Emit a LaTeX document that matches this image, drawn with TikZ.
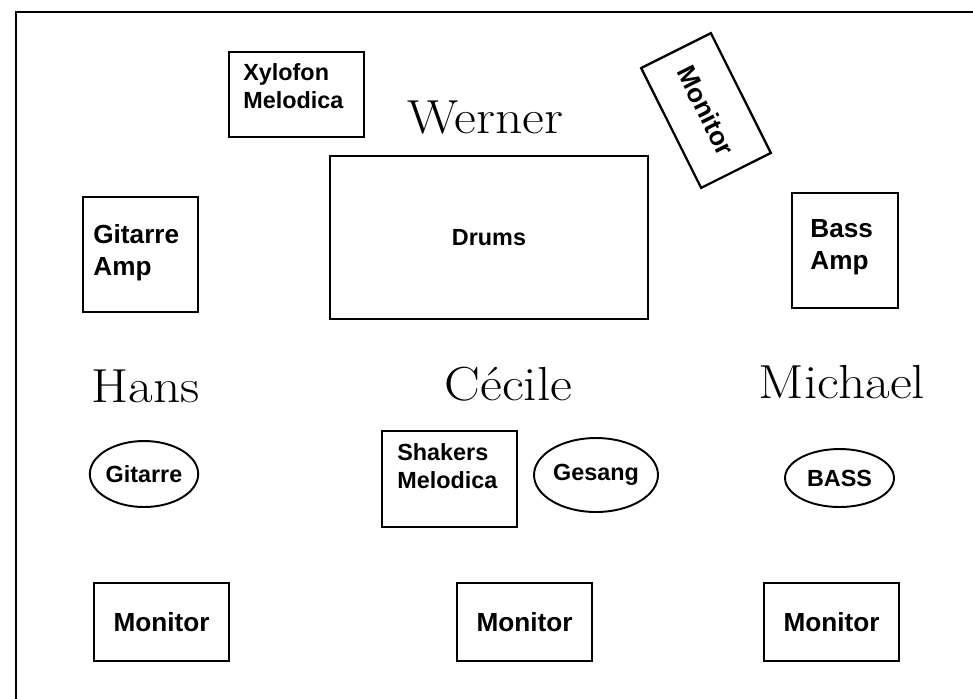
\documentclass[tikz,border=0pt]{standalone}
\usepackage{fontspec}
\setsansfont{Liberation Sans}
\usetikzlibrary{shapes.geometric}

\begin{document}
\begin{tikzpicture}[x=0.02cm, y=-0.02cm]
	 \tikzset{
	 	box/.style={draw, line width=1.3pt, rectangle, inner sep=0pt},
	 	oval/.style={draw, line width=1.1pt, ellipse, inner sep=0pt},
	 	smalltext/.style={font=\sffamily\bfseries\fontsize{13.3}{15.9}\selectfont, align=left, inner sep=0pt},
	 	bigtext/.style={font=\sffamily\bfseries\fontsize{14.9}{18.1}\selectfont, align=left, inner sep=0pt},
	 	person/.style={font=\fontsize{27.2}{30}\selectfont, xscale=1.12, transform shape, inner sep=0pt, anchor=base}
	 }
 
	 \clip (0, 0) rectangle (973, 698);
	 \draw[line width=1.5pt] (16, 720) -- (16, 12) -- (990, 12);
	 
	 % back row (text anchored at the baseline of its last line)
	 \node[box, minimum width=2.7cm, minimum height=1.7cm] (xylo) at (296.5, 94.5) {};
	 \node[smalltext, anchor=base west] (xylotxt) at (243, 108) {Xylofon\\Melodica};
	 \node[box, minimum width=6.36cm, minimum height=3.26cm, smalltext] (drums) at (489, 237.5) {Drums};
	 \node[box, rotate=-63.4, minimum width=2.68cm, minimum height=1.56cm, bigtext] (backmon) at (706, 110.5) {Monitor};
	 \node[box, minimum width=2.3cm, minimum height=2.3cm] (gitamp) at (140.5, 254.5) {};
	 \node[bigtext, anchor=base west] (gitamptxt) at (93, 275) {Gitarre\\Amp};
	 \node[box, minimum width=2.12cm, minimum height=2.3cm] (bassamp) at (845, 250.5) {};
	 \node[bigtext, anchor=base west] (bassamptxt) at (810, 269) {Bass\\Amp};
	 
	 % names
	 \node[person] (werner) at (485.5, 133) {Werner};
	 \node[person] (hans) at (146, 402) {Hans};
	 \node[person] (cecile) at (508.5, 400) {Cécile};
	 \node[person] (michael) at (842, 398) {Michael};
	 
	 % instruments
	 \node[oval, minimum width=2.04cm, minimum height=1.32cm, smalltext] (gitarre) at (144, 474) {Gitarre};
	 \node[box, minimum width=2.7cm, minimum height=1.92cm] (shakers) at (449.5, 479) {};
	 \node[smalltext, anchor=base west] (shakerstxt) at (397, 488) {Shakers\\Melodica};
	 \node[oval, minimum width=2.48cm, minimum height=1.48cm, smalltext] (gesang) at (596, 475) {Gesang};
	 \node[oval, minimum width=2.18cm, minimum height=1.16cm, smalltext] (bass) at (839.5, 478) {BASS};
	 
	 % front monitors
	 \foreach \x/\n in {161.5/hansmon, 524.5/cecilemon, 831.5/michaelmon}
	 \node[box, minimum width=2.7cm, minimum height=1.56cm, bigtext] (\n) at (\x, 622) {Monitor};
\end{tikzpicture}
\end{document}
